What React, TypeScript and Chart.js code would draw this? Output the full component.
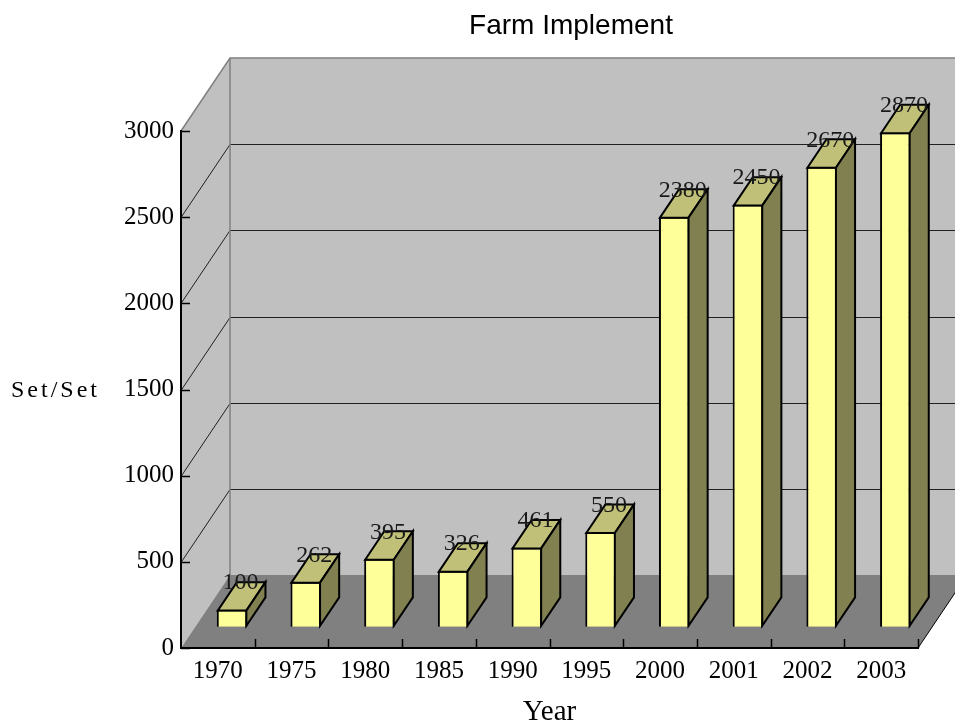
import React, { useEffect, useRef } from 'react';
import { Chart, registerables } from 'chart.js';

Chart.register(...registerables);

const years = ['1970', '1975', '1980', '1985', '1990', '1995', '2000', '2001', '2002', '2003'];
const implementSets = [100, 262, 395, 326, 461, 550, 2380, 2450, 2670, 2870];
const yMin = 0;
const yMax = 3000;
const yStep = 500;
const chartTitle = 'Farm Implement';
const yTitle = 'Set/Set';
const xTitle = 'Year';

const SERIF = "'Liberation Serif', 'DejaVu Serif', serif";
const SANS = "'Liberation Sans', Arial, sans-serif";

// 3D look (style constants)
const DEPTH = { dx: 49, dy: -73 };
const BAR_FRONT = 0.29;
const BAR_DEPTH = 0.39;
const FRONT_COLOR = '#FFFF99';
const TOP_COLOR = '#C0C078';
const SIDE_COLOR = '#808050';

const threeD = {
  id: 'threeD',
  beforeDraw(chart: any) {
    const { ctx, chartArea, scales } = chart;
    const { left: L, right: R, top: T, bottom: B } = chartArea;
    const y = scales.y;
    const x = scales.x;
    const { dx, dy } = DEPTH;
    ctx.save();
    // side wall
    ctx.fillStyle = '#C0C0C0';
    ctx.beginPath();
    ctx.moveTo(L, B);
    ctx.lineTo(L, T);
    ctx.lineTo(L + dx, T + dy);
    ctx.lineTo(L + dx, B + dy);
    ctx.closePath();
    ctx.fill();
    // back wall
    ctx.fillRect(L + dx, T + dy, R - L, B - T);
    // floor
    ctx.fillStyle = '#808080';
    ctx.beginPath();
    ctx.moveTo(L, B);
    ctx.lineTo(R, B);
    ctx.lineTo(R + dx, B + dy);
    ctx.lineTo(L + dx, B + dy);
    ctx.closePath();
    ctx.fill();
    // gridlines on walls
    ctx.lineWidth = 1;
    ctx.strokeStyle = '#202020';
    y.ticks.forEach((t: any) => {
      if (t.value <= y.min || t.value >= y.max) return;
      const py = Math.round(y.getPixelForValue(t.value)) + 0.5;
      ctx.beginPath();
      ctx.moveTo(L, py);
      ctx.lineTo(L + dx, py + dy);
      ctx.lineTo(R + dx + 20, py + dy);
      ctx.stroke();
    });
    // wall edges
    ctx.strokeStyle = '#808080';
    ctx.lineWidth = 1.5;
    ctx.beginPath();
    ctx.moveTo(L, T);
    ctx.lineTo(L + dx, T + dy);
    ctx.lineTo(R + dx + 20, T + dy);
    ctx.stroke();
    ctx.beginPath();
    ctx.moveTo(L + dx, T + dy);
    ctx.lineTo(L + dx, B + dy);
    ctx.stroke();
    // floor right edge
    ctx.strokeStyle = '#000';
    ctx.lineWidth = 1;
    ctx.beginPath();
    ctx.moveTo(R, B);
    ctx.lineTo(R + dx, B + dy);
    ctx.stroke();
    // inward tick marks
    ctx.lineWidth = 1.5;
    y.ticks.forEach((t: any) => {
      const py = Math.round(y.getPixelForValue(t.value)) + 0.5;
      ctx.beginPath();
      ctx.moveTo(L, py);
      ctx.lineTo(L + 9, py);
      ctx.stroke();
    });
    const half = (x.getPixelForValue(1) - x.getPixelForValue(0)) / 2;
    for (let i = 0; i < years.length; i++) {
      const px = Math.round(x.getPixelForValue(i) + half) + 0.5;
      ctx.beginPath();
      ctx.moveTo(px, B);
      ctx.lineTo(px, B - 9);
      ctx.stroke();
    }
    ctx.restore();
  },
  beforeDatasetDraw(chart: any) {
    chart.ctx.save();
    chart.ctx.translate(DEPTH.dx * BAR_FRONT, DEPTH.dy * BAR_FRONT);
  },
  afterDatasetDraw(chart: any, args: any) {
    const ctx = chart.ctx;
    const bdx = DEPTH.dx * BAR_DEPTH;
    const bdy = DEPTH.dy * BAR_DEPTH;
    const h = 1;
    args.meta.data.forEach((el: any) => {
      const { x, y, base, width } = el.getProps(['x', 'y', 'base', 'width'], true);
      const l = x - width / 2 + h;
      const r = x + width / 2 - h;
      const t = Math.min(y, base) + h;
      const b = Math.max(y, base) - h;
      ctx.lineWidth = 2;
      ctx.strokeStyle = '#000';
      ctx.lineJoin = 'miter';
      // top face
      ctx.fillStyle = TOP_COLOR;
      ctx.beginPath();
      ctx.moveTo(l, t);
      ctx.lineTo(l + bdx, t + bdy);
      ctx.lineTo(r + bdx, t + bdy);
      ctx.lineTo(r, t);
      ctx.closePath();
      ctx.fill();
      ctx.stroke();
      // side face
      ctx.fillStyle = SIDE_COLOR;
      ctx.beginPath();
      ctx.moveTo(r, t);
      ctx.lineTo(r + bdx, t + bdy);
      ctx.lineTo(r + bdx, b + bdy);
      ctx.lineTo(r, b);
      ctx.closePath();
      ctx.fill();
      ctx.stroke();
    });
    ctx.restore();
  },
  afterDatasetsDraw(chart: any) {
    const ctx = chart.ctx;
    const meta = chart.getDatasetMeta(0);
    const ds = chart.data.datasets[0].data;
    const fx = DEPTH.dx * BAR_FRONT;
    const fy = DEPTH.dy * BAR_FRONT;
    const bdx = DEPTH.dx * BAR_DEPTH;
    const bdy = DEPTH.dy * BAR_DEPTH;
    ctx.save();
    ctx.font = `24px ${SERIF}`;
    ctx.fillStyle = '#1a1a1a';
    ctx.textAlign = 'center';
    ctx.textBaseline = 'middle';
    meta.data.forEach((el: any, i: number) => {
      const { x, y, base } = el.getProps(['x', 'y', 'base'], true);
      const top = Math.min(y, base);
      ctx.fillText(String(ds[i]), x + fx + bdx / 2 - 1, top + fy + bdy + 2);
    });
    ctx.restore();
  },
  afterDraw(chart: any) {
    const { ctx, chartArea, scales } = chart;
    ctx.save();
    ctx.fillStyle = '#000';
    ctx.font = `28px ${SANS}`;
    ctx.textAlign = 'center';
    ctx.textBaseline = 'alphabetic';
    ctx.fillText(chartTitle, (chartArea.left + chartArea.right + DEPTH.dx) / 2 - 3, 34);
    ctx.font = `24px ${SERIF}`;
    (ctx as any).letterSpacing = '3px';
    ctx.textAlign = 'left';
    ctx.textBaseline = 'middle';
    ctx.fillText(yTitle, 11, scales.y.getPixelForValue((yMin + yMax) / 2) + 1);
    ctx.restore();
  },
};

export default function App() {
  const ref = useRef<HTMLCanvasElement>(null);
  useEffect(() => {
    const chart = new Chart(ref.current as HTMLCanvasElement, {
      type: 'bar',
      data: {
        labels: years,
        datasets: [
          {
            data: implementSets,
            backgroundColor: FRONT_COLOR,
            borderColor: '#000',
            borderWidth: 2,
            barPercentage: 0.415,
            categoryPercentage: 1,
            clip: false as any,
          },
        ],
      },
      options: {
        responsive: false,
        animation: false,
        events: [],
        layout: { padding: { top: 131, right: 37, left: 0, bottom: 0 } },
        plugins: {
          legend: { display: false },
          title: { display: false },
          tooltip: { enabled: false },
        },
        scales: {
          x: {
            type: 'category',
            grid: { display: false, drawTicks: false },
            border: { display: true, color: '#000', width: 2 },
            ticks: {
              font: { family: SERIF, size: 25 },
              color: '#000',
              padding: 8,
              maxRotation: 0,
              autoSkip: false,
            },
            title: {
              display: true,
              text: xTitle,
              color: '#000',
              font: { family: SERIF, size: 29, lineHeight: 1 },
              padding: 0,
            },
            afterFit: (s: any) => {
              s.height = 79;
            },
          },
          y: {
            min: yMin,
            max: yMax,
            grid: { display: false, drawTicks: false },
            border: { display: true, color: '#000', width: 2 },
            ticks: {
              stepSize: yStep,
              font: { family: SERIF, size: 25 },
              color: '#000',
              padding: 7,
              callback: (v: any) => String(v),
            },
            afterFit: (s: any) => {
              s.width = 181;
            },
          },
        },
      },
      plugins: [threeD],
    });
    return () => chart.destroy();
  }, []);
  return (
    <canvas
      ref={ref}
      width={955}
      height={727}
      style={{ position: 'absolute', left: 0, top: 0, display: 'block' }}
    />
  );
}
